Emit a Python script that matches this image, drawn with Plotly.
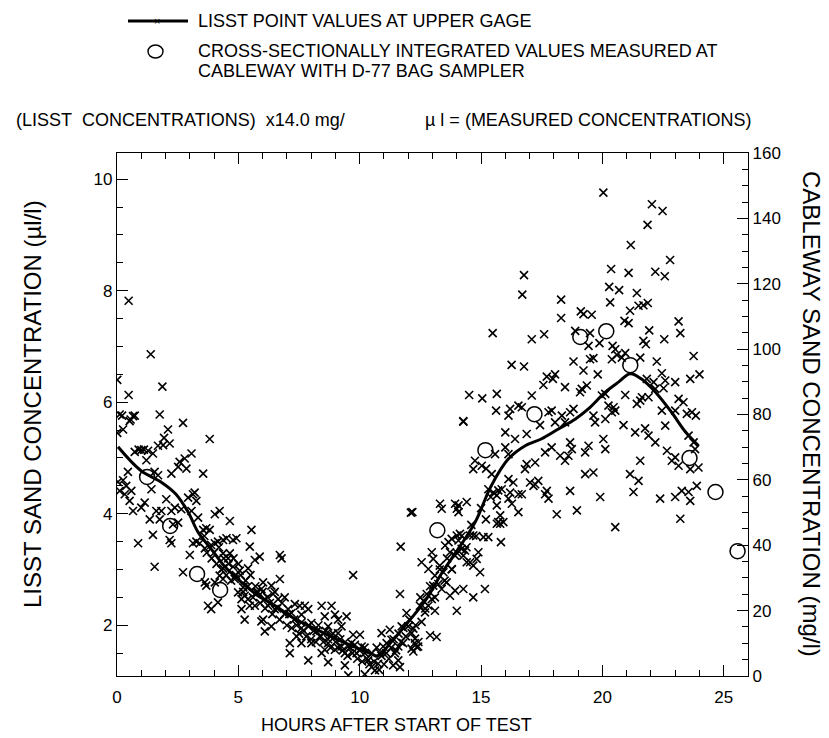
import plotly.graph_objects as go

# LISST point samples (hours, ul/l)
lisst_hours = [
    0.48, 1.39, 0.01, 1.87, 0.48,
    0.11, 0.25, 0.01, 0.52, 0.66, 1.76, 2.72, 3.82, 2.10, 1.94, 0.21, 0.73, 0.56,
    1.00, 1.11, 1.28, 1.69, 1.90, 2.17, 1.48, 0.73, 0.89, 1.21, 2.58, 2.79, 3.07, 2.52, 2.86,
    2.24, 1.55, 1.69, 3.55, 0.45, 0.25, 0.04, 0.38, 0.11, 0.32, 0.59, 0.52, 0.66, 1.00, 1.14,
    1.42, 1.62, 1.83, 1.76, 1.35, 1.48, 0.87, 1.55, 2.03, 2.24, 2.38, 2.65, 2.93, 3.13, 3.27,
    3.20, 3.07, 3.34, 2.31, 2.52, 2.17, 2.24, 2.72, 3.00, 3.13, 3.27, 3.41, 3.55, 3.68, 3.82,
    4.03, 4.23, 4.65, 3.62, 3.88, 4.03, 4.16, 4.37, 4.51, 4.78, 4.92, 5.54, 5.47, 4.37, 4.65,
    4.58, 4.78, 4.37, 4.23, 4.03, 3.62, 3.68, 3.75, 3.88, 4.16, 4.37, 4.85, 5.06, 5.20, 4.99,
    5.26, 5.13, 5.40, 5.47, 5.26, 5.13, 5.68, 5.75, 5.40, 5.68, 5.88, 6.02, 5.95, 6.09, 6.23,
    6.43, 6.36, 6.02, 5.95, 6.09, 6.36, 6.50, 6.64, 6.71, 6.71, 6.78, 6.91, 7.05, 7.19, 7.33,
    7.53, 7.74, 7.60, 7.88, 8.01, 7.88, 7.60, 7.40, 7.12, 7.12, 7.60, 7.88, 8.01, 8.22, 8.36,
    8.43, 8.56, 8.70, 8.84, 8.98, 9.11, 9.25, 9.46, 9.11, 8.84, 8.70, 8.56, 8.43, 8.70, 8.98,
    9.25, 9.39, 9.53, 9.66, 9.73, 10.01, 10.08, 9.87, 9.39, 9.53, 9.73, 10.21, 10.35, 10.49,
    10.63, 10.21, 10.76, 10.83, 10.97, 11.11, 10.90, 11.24, 11.31, 11.45, 11.59, 11.66, 11.38,
    11.59, 11.79, 11.73, 11.93, 11.69, 11.66,
    12.14, 12.28, 12.42, 12.35, 12.21, 12.55, 12.69, 12.83, 12.62, 12.48, 12.76, 12.97, 13.10,
    12.90, 13.17, 13.03, 13.24, 13.38, 13.10, 12.55, 12.83, 13.03, 12.97, 13.30, 13.45, 13.58,
    13.72, 13.93, 13.79, 13.93, 13.72, 13.52, 13.66, 13.79, 14.00, 14.07, 14.13, 14.20, 14.34,
    14.27, 14.41, 14.55, 14.68, 14.82, 14.89, 14.96, 15.16, 14.68, 14.27, 14.00, 13.31, 13.38,
    14.27, 12.17, 13.93, 14.07, 14.41, 14.07, 14.00, 12.00, 12.14, 12.27, 12.41, 12.21, 12.11,
    15.30, 15.51, 15.65, 15.71, 15.85, 15.65, 15.79, 15.71, 15.65, 15.79, 15.92, 15.82, 15.10,
    15.30, 14.68, 14.55, 16.13, 16.33, 16.20, 16.13, 16.27, 16.54, 16.54, 16.68, 17.02, 17.16,
    17.23, 17.36, 17.78, 17.64, 17.71, 18.12, 18.67, 18.95, 19.91, 21.28, 21.49, 22.38, 20.53,
    23.00, 23.21, 23.27, 23.55, 23.62, 23.89,
    20.04, 22.04, 22.48, 21.86, 21.17, 22.79, 16.77, 16.70, 20.36, 21.08, 22.18, 22.57, 20.28,
    20.69, 21.42, 20.32, 18.30, 18.30, 19.11, 19.22, 19.56, 21.14, 21.49, 21.69, 21.87, 20.91,
    21.08, 23.14, 23.21, 21.93, 22.55, 21.69, 21.79, 15.48, 17.09, 17.60, 18.88, 19.49, 19.43,
    19.88, 20.42, 20.53, 20.60, 20.39, 20.80, 20.94, 19.49, 19.63, 18.81, 23.76, 24.00, 23.62,
    21.56, 22.24, 22.45, 22.11, 21.83, 22.59, 23.00, 22.18, 22.52, 16.26, 16.77, 17.96, 17.71,
    18.05, 17.57, 18.46, 19.22, 19.81, 19.36, 19.15, 19.08, 19.98, 20.12, 20.25, 20.46, 20.53,
    20.39, 20.94, 21.56, 21.42, 21.63, 21.90, 22.45, 23.00, 23.14, 23.34, 23.48, 23.69, 23.85,
    14.51, 15.05, 15.65, 17.09, 15.62, 16.20, 16.54, 16.68, 16.13, 14.27, 16.00, 16.40, 16.88,
    17.43, 17.78, 17.91, 18.05, 18.33, 18.46, 18.67, 18.81, 19.63, 19.70, 20.12, 20.87, 21.35,
    21.76, 21.90, 22.18, 22.59, 22.66, 21.56, 20.04, 20.12, 19.43, 19.29, 18.67, 18.74, 18.60,
    18.46, 18.26, 17.91, 17.64, 17.23, 16.81, 16.88, 16.00, 16.13, 15.58, 15.21, 14.75, 15.03,
    14.68, 15.44, 19.29, 19.63, 21.14, 22.86, 23.00, 23.14, 23.62, 23.96, 23.82, 23.76, 23.55,
    # dense band along the trend
    3.60, 3.70, 3.90, 4.00, 4.10, 4.20, 4.30, 4.40, 4.50, 4.60, 4.70, 4.80, 4.90, 5.00,
    5.10, 5.20, 5.30, 5.40, 5.50, 5.60, 5.70, 5.80, 5.90, 6.00, 6.10, 6.20, 6.30, 6.40,
    6.50, 6.60, 6.70, 6.80, 6.90, 7.00, 7.10, 7.20, 7.30, 7.40, 7.50, 7.60, 7.70, 7.80,
    7.90, 8.00, 8.10, 8.20, 8.30, 8.40, 8.50, 8.60, 8.70, 8.80, 8.90, 9.00, 9.10, 9.20,
    9.30, 9.40, 9.50, 9.60, 9.70, 9.80, 9.90, 10.00, 10.10, 10.20, 10.30, 10.40, 10.50,
    10.60, 10.70, 10.80, 10.90, 11.00, 11.10, 11.20, 11.30, 11.40, 11.50, 11.60, 11.70,
    11.80, 11.90, 12.05, 12.30, 12.50, 12.70, 12.90, 13.10, 13.30, 13.50, 13.60, 13.80,
    14.00, 14.20, 14.40, 14.60, 14.80, 15.00, 15.20, 15.40,
]
lisst_ul = [
    7.82, 6.86, 6.40, 6.28, 6.13,
    5.78, 5.51, 5.45, 5.66, 5.75, 5.78, 5.63, 5.34, 5.51, 5.36, 5.76, 5.76, 5.69,
    5.14, 5.15, 5.13, 5.22, 5.23, 5.26, 5.08, 5.11, 5.15, 4.96, 4.93, 4.99, 5.08, 4.84, 4.81,
    4.72, 4.75, 4.69, 4.72, 4.75, 4.60, 4.57, 4.50, 4.41, 4.35, 4.41, 4.23, 4.05, 4.11, 4.20,
    4.44, 4.05, 4.05, 3.90, 3.90, 3.62, 3.47, 3.05, 4.26, 4.05, 4.11, 4.08, 4.29, 4.35, 4.23,
    4.38, 4.05, 3.93, 3.81, 3.84, 3.53, 3.47, 2.95, 3.26, 3.47, 3.50, 3.47, 3.71, 3.74, 3.71,
    3.99, 4.05, 3.87, 3.38, 3.44, 3.47, 3.50, 3.53, 3.56, 3.53, 3.56, 3.71, 3.41, 3.29, 3.29,
    3.20, 3.05, 3.02, 2.89, 2.77, 2.77, 2.71, 2.35, 2.29, 2.41, 2.83, 2.83, 2.98, 2.68, 2.59,
    2.53, 2.47, 2.47, 2.35, 2.10, 2.29, 2.35, 2.59, 3.02, 3.17, 3.23, 2.77, 2.65, 2.47, 2.35,
    2.56, 2.71, 2.10, 2.07, 1.89, 1.98, 2.29, 2.47, 2.83, 3.26, 3.20, 2.50, 2.29, 2.22, 2.38,
    2.35, 2.35, 2.19, 2.29, 2.04, 1.98, 1.95, 1.80, 1.68, 1.50, 1.68, 1.37, 1.68, 1.89, 1.80,
    2.35, 2.16, 1.98, 2.35, 2.19, 2.10, 1.98, 2.16, 1.86, 1.83, 1.68, 1.56, 1.50, 1.34, 1.56,
    1.62, 1.50, 1.62, 1.68, 1.83, 1.83, 1.62, 1.50, 1.28, 1.10, 2.90, 1.50, 1.37, 1.25,
    1.19, 1.12, 1.31, 1.50, 1.62, 1.68, 1.86, 1.92, 1.74, 1.50, 1.37, 1.25, 1.28,
    1.62, 1.68, 1.98, 2.22, 3.41, 2.56,
    1.58, 1.76, 1.70, 1.61, 1.94, 2.06, 2.23, 2.35, 2.44, 2.35, 2.56, 2.47, 2.26,
    1.82, 1.79, 2.71, 2.74, 2.65, 2.89, 3.13, 3.01, 3.19, 3.31, 3.07, 2.95, 2.77,
    2.53, 2.62, 3.01, 3.25, 3.31, 3.43, 3.49, 3.55, 3.61, 3.52, 3.64, 3.37, 3.34,
    3.25, 3.13, 3.13, 3.07, 3.19, 3.31, 2.95, 2.65, 2.50, 2.65, 2.26, 4.18, 4.09,
    5.65, 4.03, 4.18, 4.15, 4.21, 4.03, 4.09, 1.98, 1.86, 1.68, 1.62, 1.53, 4.02,
    4.44, 4.38, 4.33, 4.42, 4.44, 4.15, 3.97, 3.85, 3.82, 3.82, 3.85, 3.49, 3.58,
    3.58, 3.61, 3.61, 4.62, 4.56, 4.38, 4.27, 4.18, 4.35, 4.03, 4.35, 4.56, 4.50,
    4.53, 4.59, 4.27, 4.35, 4.41, 3.99, 4.41, 4.06, 4.30, 4.39, 4.59, 4.27, 3.76,
    4.30, 3.91, 4.41, 4.39, 4.23, 4.50,
    9.76, 9.55, 9.43, 9.18, 8.82, 8.55, 8.28, 7.93, 8.39, 8.32, 8.34, 8.26, 8.07,
    8.01, 7.96, 7.79, 7.84, 7.51, 7.63, 7.58, 7.57, 7.64, 7.73, 7.74, 7.78, 7.46,
    7.42, 7.45, 7.24, 7.29, 7.13, 7.10, 7.04, 7.24, 7.13, 7.22, 7.28, 7.24, 7.01,
    7.06, 7.01, 6.95, 6.85, 6.77, 6.80, 6.88, 6.77, 6.79, 6.73, 6.83, 6.50, 6.42,
    6.80, 6.73, 6.52, 6.36, 6.42, 6.39, 6.36, 6.24, 6.25, 6.67, 6.64, 6.42, 6.46,
    6.50, 6.31, 6.27, 6.57, 6.50, 6.30, 6.24, 6.18, 6.12, 6.15, 5.94, 5.91, 5.85,
    5.82, 6.13, 6.03, 5.97, 6.09, 6.09, 5.85, 5.85, 6.06, 6.00, 5.79, 5.82, 5.76,
    6.13, 6.07, 6.15, 6.12, 5.85, 5.88, 5.94, 5.91, 5.76, 5.66, 5.46, 5.34, 5.43,
    5.59, 5.82, 5.85, 5.64, 5.76, 5.64, 5.82, 5.88, 5.76, 5.64, 5.70, 5.59, 5.46,
    5.53, 5.40, 5.28, 5.58, 5.13, 4.95, 5.34, 5.16, 5.22, 5.10, 5.28, 5.16, 5.04,
    4.95, 5.04, 5.19, 5.10, 4.92, 4.80, 4.89, 5.19, 5.07, 5.07, 4.81, 4.95, 4.86,
    4.80, 4.71, 4.71, 4.74, 4.71, 4.95, 5.01, 4.86, 4.80, 4.83, 5.16, 5.28, 5.40,
    # dense band along the trend
    3.60, 3.30, 3.20, 3.30, 3.10, 3.40, 3.00, 3.20, 2.90, 3.10, 2.80, 3.20, 2.90, 3.10,
    2.90, 2.60, 2.80, 2.70, 2.90, 2.50, 2.70, 2.60, 2.40, 2.60, 2.30, 2.50, 2.40, 2.20,
    2.60, 2.30, 2.10, 2.40, 2.20, 2.00, 2.20, 1.95, 2.10, 2.00, 1.85, 2.05, 1.90, 1.80,
    2.00, 1.75, 1.90, 1.70, 2.00, 1.80, 1.70, 1.90, 1.75, 1.60, 1.85, 1.70, 1.60, 1.75,
    1.55, 1.70, 1.45, 1.60, 1.50, 1.65, 1.40, 1.55, 1.35, 1.60, 1.40, 1.30, 1.50,
    1.35, 1.60, 1.20, 1.45, 1.30, 1.50, 1.40, 1.60, 1.75, 1.55, 1.85, 1.70,
    1.95, 1.80, 2.10, 2.00, 2.50, 2.30, 2.70, 2.50, 3.00, 2.80, 3.20, 3.00,
    3.30, 3.60, 3.40, 3.80, 3.60, 4.10, 3.90, 4.30,
]

# Smoothed LISST trend line (hours, ul/l)
trend_hours = [0.04, 0.99, 1.81, 2.43, 2.93, 3.34, 3.88, 4.45, 5.11, 5.81, 6.52, 7.34, 8.16,
               8.99, 9.81, 10.47, 10.75, 11.30, 12.00, 12.70, 13.36, 14.06, 14.76, 15.42,
               16.12, 16.82, 17.48, 18.19, 18.89, 19.42, 20.12, 20.66, 21.15, 21.60, 22.19,
               22.85, 23.42, 23.96]
trend_ul = [5.20, 4.77, 4.57, 4.35, 4.03, 3.67, 3.37, 3.05, 2.78, 2.53, 2.35, 2.11, 1.94,
            1.76, 1.61, 1.49, 1.45, 1.70, 2.06, 2.44, 2.92, 3.37, 3.85, 4.50, 4.98, 5.22,
            5.34, 5.52, 5.70, 5.88, 6.18, 6.36, 6.51, 6.42, 6.18, 5.82, 5.47, 5.22]

# Cableway D-77 measurements (hours, mg/l)
cable_hours = [1.24, 2.19, 3.30, 4.25, 13.20, 15.18, 17.20, 19.09, 20.16, 21.15, 23.59, 24.66, 25.57]
cable_mgl = [60.9, 45.9, 31.2, 26.3, 44.6, 69.1, 80.1, 103.7, 105.5, 95.1, 66.7, 56.3, 38.2]

L, R, T, B = 109, 89, 145, 70
W, H = 829, 738
PW, PH = W - L - R, H - T - B
FONT = "Liberation Sans, Arial, sans-serif"


def px(x):
    return (x - L) / PW


def py(y):
    return (H - B - y) / PH


fig = go.Figure()
fig.add_trace(go.Scatter(
    x=lisst_hours, y=lisst_ul, mode="markers",
    marker=dict(symbol="x-thin", size=8, line=dict(width=1.6, color="black"), color="black"),
    showlegend=False))
fig.add_trace(go.Scatter(
    x=trend_hours, y=trend_ul, mode="lines", line=dict(color="black", width=3, shape="spline"),
    showlegend=False))
fig.add_trace(go.Scatter(
    x=cable_hours, y=cable_mgl, mode="markers", yaxis="y2",
    marker=dict(symbol="circle-open", size=15, line=dict(width=1.5, color="black"), color="black"),
    showlegend=False, cliponaxis=False))

axis_common = dict(ticks="inside", showgrid=False, zeroline=False, showline=True, automargin=False,
                   linecolor="black", linewidth=1.3, tickcolor="black", tickwidth=1.3,
                   tickfont=dict(family=FONT, size=17, color="black"))
minor_common = dict(ticklen=6, ticks="inside", tickcolor="black", tickwidth=1.2)

fig.update_layout(
    template="none",
    width=W, height=H,
    margin=dict(l=L, r=R, t=T, b=B, pad=0),
    paper_bgcolor="white", plot_bgcolor="white",
    font=dict(family=FONT, color="black"),
    xaxis=dict(range=[0, 26], tick0=0, dtick=5, ticklen=11, mirror="ticks", ticklabelstandoff=5,
               minor=dict(dtick=1, **minor_common), **axis_common),
    yaxis=dict(range=[1.09, 10.47], tick0=0, dtick=2, ticklen=11,
               minor=dict(dtick=0.5, **minor_common), **axis_common),
    yaxis2=dict(range=[0, 160], tick0=0, dtick=20, ticklen=11, overlaying="y", side="right",
                minor=dict(dtick=5, **minor_common), **axis_common),
)

# axis titles
fig.add_annotation(x=px(388), y=py(717), xref="paper", yref="paper", showarrow=False,
                   text="HOURS AFTER START OF TEST", font=dict(family=FONT, size=18, color="black"),
                   xanchor="center", yanchor="middle")
fig.add_annotation(x=px(24), y=py(396), xref="paper", yref="paper", showarrow=False, textangle=-90,
                   text="LISST SAND CONCENTRATION (\u00b5l/l)", font=dict(family=FONT, size=24, color="black"),
                   xanchor="center", yanchor="middle")
fig.add_annotation(x=px(804), y=py(406), xref="paper", yref="paper", showarrow=False, textangle=90,
                   text="CABLEWAY SAND CONCENTRATION (mg/l)", font=dict(family=FONT, size=24, color="black"),
                   xanchor="center", yanchor="middle")

ann_font = dict(family=FONT, size=18, color="black")
texts = [
    (188, 13, "LISST POINT VALUES AT UPPER GAGE"),
    (188, 43, "CROSS-SECTIONALLY INTEGRATED VALUES MEASURED AT"),
    (188, 63, "CABLEWAY WITH D-77 BAG SAMPLER"),
    (6, 112, "(LISST\u00a0 CONCENTRATIONS)\u00a0 x14.0 mg/"),
    (415, 112, "\u00b5 l = (MEASURED CONCENTRATIONS)"),
]
for x, y, t in texts:
    fig.add_annotation(x=px(x), y=py(y), xref="paper", yref="paper", text=t, showarrow=False,
                       xanchor="left", yanchor="middle", font=ann_font)

fig.add_shape(type="line", xref="paper", yref="paper", x0=px(120), x1=px(180), y0=py(13), y1=py(13),
              line=dict(color="black", width=3))
fig.add_annotation(x=px(149), y=py(13), xref="paper", yref="paper", text="\u00d7", showarrow=False,
                   xanchor="center", yanchor="middle", font=dict(family=FONT, size=11, color="black"))
fig.add_shape(type="circle", xref="paper", yref="paper", x0=px(140), x1=px(155), y0=py(37), y1=py(50),
              line=dict(color="black", width=1.4))

fig.write_html("out.html")
